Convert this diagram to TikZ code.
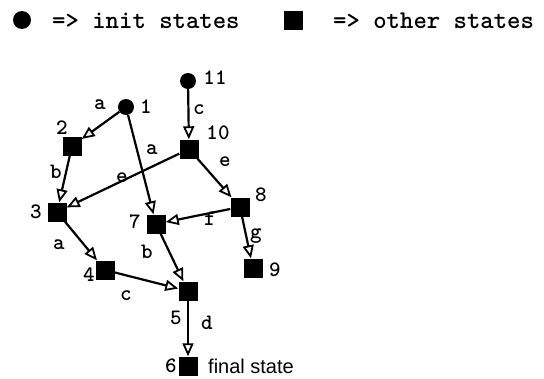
\documentclass[tikz,border=0pt]{standalone}
\usepackage{fontspec}
\newfontfamily\sansf{Liberation Sans}
\usetikzlibrary{arrows.meta}
\begin{document}
\begin{tikzpicture}[x=1pt,y=-1pt,
 init/.style={circle,fill=black,inner sep=0pt,minimum size=16pt},
 st/.style={rectangle,fill=black,inner sep=0pt,minimum size=19pt},
 lbl/.style={font=\ttfamily\bfseries\fontsize{22}{22}\selectfont,inner sep=0pt},
 leg/.style={font=\ttfamily\bfseries\fontsize{25.5}{25.5}\selectfont,inner sep=0pt,anchor=west},
 edge/.style={draw,line width=2.2pt,-{Triangle[open,length=13pt,width=11pt,line width=1.8pt]}}
]
\useasboundingbox (0,0) rectangle (544,378);
% legend
\node[init,minimum size=18pt] (li) at (22,20) {};
\node[leg] (lt1) at (52,21) {=> init states};
\node[st] (ls) at (293,20) {};
\node[leg] (lt2) at (333,21) {=> other states};
% states
\node[init] (n1) at (126,107) {};
\node[init] (n11) at (188,81) {};
\node[st] (n2) at (72,146) {};
\node[st] (n10) at (189,149) {};
\node[st] (n3) at (57,212) {};
\node[st] (n7) at (156,224) {};
\node[st] (n8) at (240,207) {};
\node[st] (n9) at (253,268) {};
\node[st] (n4) at (105,270) {};
\node[st] (n5) at (188,291) {};
\node[st] (n6) at (188,366) {};
% state labels
\node[lbl] (t1) at (146,107) {1};
\node[lbl] (t11) at (215,78) {11};
\node[lbl] (t2) at (62,128) {2};
\node[lbl] (t10) at (218,133) {10};
\node[lbl] (t3) at (36,212) {3};
\node[lbl] (t7) at (135,222) {7};
\node[lbl] (t8) at (261,195) {8};
\node[lbl] (t9) at (275,270) {9};
\node[lbl] (t4) at (89,275) {4};
\node[lbl] (t5) at (176,318) {5};
\node[lbl] (t6) at (171,366) {6};
\node[inner sep=0pt,anchor=west,font=\sansf\fontsize{20}{20}\selectfont] (tf) at (208,366) {final state};
% edges
\draw[edge] (n1) -- (n2);
\draw[edge] (n1) -- (n7);
\draw[edge] (n11) -- (n10);
\draw[edge] (n2) -- (n3);
\draw[edge] (n10) -- (n3);
\draw[edge] (n10) -- (n8);
\draw[edge] (n8) -- (n7);
\draw[edge] (n8) -- (n9);
\draw[edge] (n3) -- (n4);
\draw[edge] (n7) -- (n5);
\draw[edge] (n4) -- (n5);
\draw[edge] (n5) -- (n6);
% edge labels
\node[lbl] (e12) at (100,105) {a};
\node[lbl] (e17) at (152,150) {a};
\node[lbl] (e23) at (56,172) {b};
\node[lbl] (e103) at (122,178) {e};
\node[lbl] (e1110) at (199,110) {c};
\node[lbl] (e108) at (225,162) {e};
\node[lbl] (e87) at (210,219) {f};
\node[lbl] (e89) at (256,236) {g};
\node[lbl] (e34) at (59,245) {a};
\node[lbl] (e75) at (147,252) {b};
\node[lbl] (e45) at (126,296) {c};
\node[lbl] (e56) at (207,323) {d};
\end{tikzpicture}
\end{document}
